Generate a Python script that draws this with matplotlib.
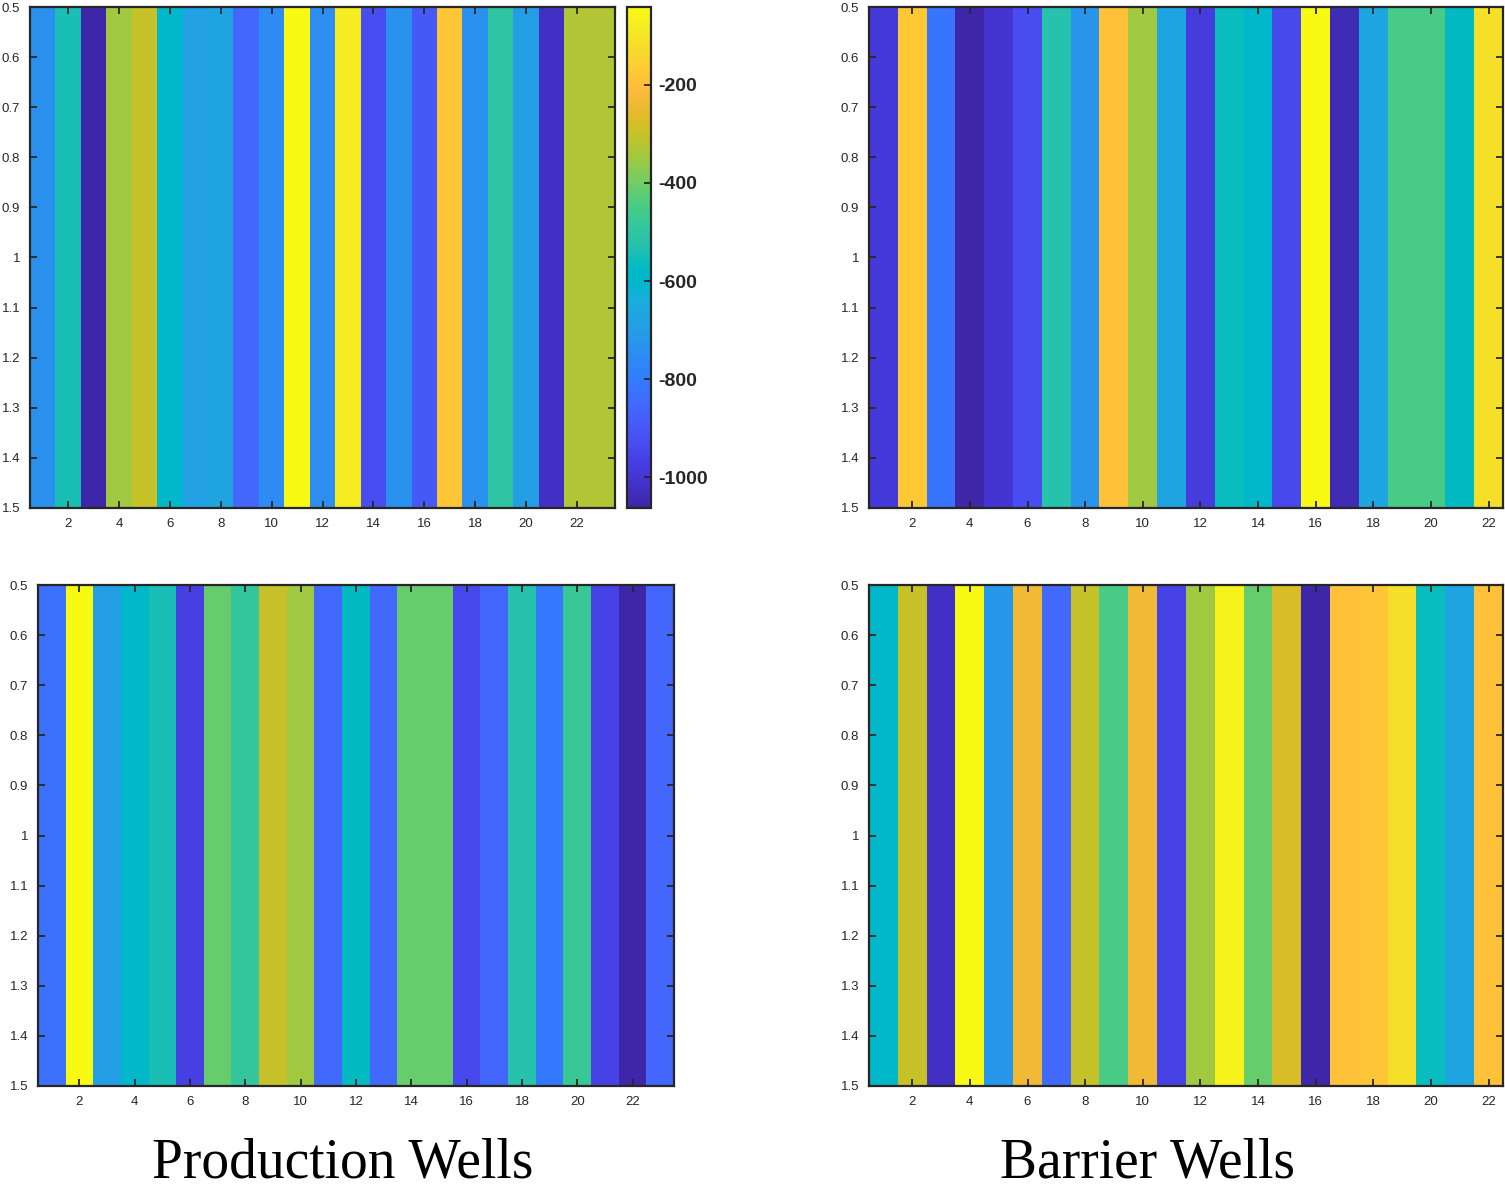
import numpy as np
import matplotlib
matplotlib.use("Agg")
import matplotlib.pyplot as plt
from matplotlib.colors import LinearSegmentedColormap
from matplotlib.ticker import FuncFormatter

# values per well (one row each)
prod_top = [-736, -542, -1063, -348, -297, -593, -685, -675, -859, -756, -41, -746,
            -82, -930, -736, -899, -184, -736, -501, -695, -1022, -327, -327]
barr_top = [-991, -174, -818, -1063, -1002, -930, -521, -726, -194, -348, -675,
            -981, -562, -593, -940, -41, -1043, -664, -450, -450, -572, -113]
prod_bot = [-828, -41, -695, -593, -542, -971, -409, -491, -297, -348, -848, -572,
            -848, -409, -409, -940, -859, -521, -808, -480, -961, -1063, -859]
barr_bot = [-593, -297, -1022, -41, -716, -235, -848, -297, -450, -235, -961,
            -348, -61, -409, -276, -1063, -194, -184, -113, -562, -675, -194]

xticks = [2, 4, 6, 8, 10, 12, 14, 16, 18, 20, 22]
yticks = [0.5, 0.6, 0.7, 0.8, 0.9, 1.0, 1.1, 1.2, 1.3, 1.4, 1.5]
cbar_ticks = [-1000, -800, -600, -400, -200]
captions = ["Production Wells", "Barrier Wells"]

# parula (R2017a) colour table
parula = [
    [0.2422, 0.1504, 0.6603], [0.2504, 0.1650, 0.7076], [0.2578, 0.1818, 0.7511],
    [0.2647, 0.1978, 0.7952], [0.2706, 0.2147, 0.8364], [0.2751, 0.2342, 0.8710],
    [0.2783, 0.2559, 0.8991], [0.2803, 0.2782, 0.9221], [0.2813, 0.3006, 0.9414],
    [0.2810, 0.3228, 0.9579], [0.2795, 0.3447, 0.9717], [0.2760, 0.3667, 0.9829],
    [0.2699, 0.3892, 0.9906], [0.2602, 0.4123, 0.9952], [0.2440, 0.4358, 0.9988],
    [0.2206, 0.4603, 0.9973], [0.1963, 0.4847, 0.9892], [0.1834, 0.5074, 0.9798],
    [0.1786, 0.5289, 0.9682], [0.1764, 0.5499, 0.9520], [0.1687, 0.5703, 0.9359],
    [0.1540, 0.5902, 0.9218], [0.1460, 0.6091, 0.9079], [0.1380, 0.6276, 0.8973],
    [0.1248, 0.6459, 0.8883], [0.1113, 0.6635, 0.8763], [0.0952, 0.6798, 0.8598],
    [0.0689, 0.6948, 0.8394], [0.0297, 0.7082, 0.8163], [0.0036, 0.7203, 0.7917],
    [0.0067, 0.7312, 0.7660], [0.0433, 0.7411, 0.7394], [0.0964, 0.7500, 0.7120],
    [0.1408, 0.7584, 0.6842], [0.1717, 0.7670, 0.6554], [0.1938, 0.7758, 0.6251],
    [0.2161, 0.7843, 0.5923], [0.2470, 0.7918, 0.5567], [0.2906, 0.7973, 0.5188],
    [0.3406, 0.8008, 0.4789], [0.3909, 0.8029, 0.4354], [0.4456, 0.8024, 0.3909],
    [0.5044, 0.7993, 0.3480], [0.5616, 0.7942, 0.3045], [0.6174, 0.7876, 0.2612],
    [0.6720, 0.7793, 0.2227], [0.7242, 0.7698, 0.1910], [0.7738, 0.7598, 0.1646],
    [0.8203, 0.7498, 0.1535], [0.8634, 0.7406, 0.1596], [0.9035, 0.7330, 0.1774],
    [0.9393, 0.7288, 0.2100], [0.9728, 0.7298, 0.2394], [0.9956, 0.7434, 0.2371],
    [0.9970, 0.7659, 0.2199], [0.9952, 0.7893, 0.2028], [0.9892, 0.8136, 0.1885],
    [0.9786, 0.8386, 0.1766], [0.9676, 0.8639, 0.1643], [0.9610, 0.8890, 0.1537],
    [0.9597, 0.9135, 0.1423], [0.9628, 0.9373, 0.1265], [0.9691, 0.9606, 0.1064],
    [0.9769, 0.9839, 0.0805]]
cmap = LinearSegmentedColormap.from_list("parula", parula, N=256)

plt.rcParams['font.family'] = ['Liberation Sans', 'DejaVu Sans']
plt.rcParams['axes.unicode_minus'] = False
edge = '#262626'

W, H = 1505, 1194
fig = plt.figure(figsize=(W / 100, H / 100), dpi=100)


def px_axes(x0, y0, x1, y1):
    return fig.add_axes([x0 / W, 1 - y1 / H, (x1 - x0) / W, (y1 - y0) / H])


def draw(ax, vals):
    n = len(vals)
    im = ax.imshow(np.array([vals], dtype=float), cmap=cmap, aspect='auto',
                   interpolation='nearest', extent=[0.5, n + 0.5, 1.5, 0.5])
    ax.set_xlim(0.5, n + 0.5)
    ax.set_ylim(1.5, 0.5)
    ax.set_xticks(xticks)
    ax.set_yticks(yticks)
    ax.yaxis.set_major_formatter(FuncFormatter(lambda v, p: '%g' % round(v, 1)))
    ax.tick_params(direction='in', length=5, width=1.3, top=True, right=True,
                   labelsize=9.5, colors=edge, pad=7)
    for s in ax.spines.values():
        s.set_color(edge)
        s.set_linewidth(1.6)
    return im


ax1 = px_axes(30, 7, 615, 508)
im1 = draw(ax1, prod_top)
ax2 = px_axes(869, 7, 1503, 508)
draw(ax2, barr_top)
ax3 = px_axes(38, 585, 674, 1086)
draw(ax3, prod_bot)
ax4 = px_axes(869, 585, 1503, 1086)
draw(ax4, barr_bot)

cax = px_axes(627, 7, 651, 508)
cb = fig.colorbar(im1, cax=cax, ticks=cbar_ticks)
cb.outline.set_edgecolor(edge)
cb.outline.set_linewidth(1.6)
cax.tick_params(direction='in', length=5, width=1.3, labelsize=14, colors=edge, pad=5)
for lab in cax.get_yticklabels():
    lab.set_fontweight('bold')

fig.text(343 / W, 1 - 1164 / H, captions[0], family=['Liberation Serif'],
         fontsize=40, ha='center', va='center')
fig.text(1148 / W, 1 - 1164 / H, captions[1], family=['Liberation Serif'],
         fontsize=40, ha='center', va='center')

fig.savefig('out.png', dpi=100)
